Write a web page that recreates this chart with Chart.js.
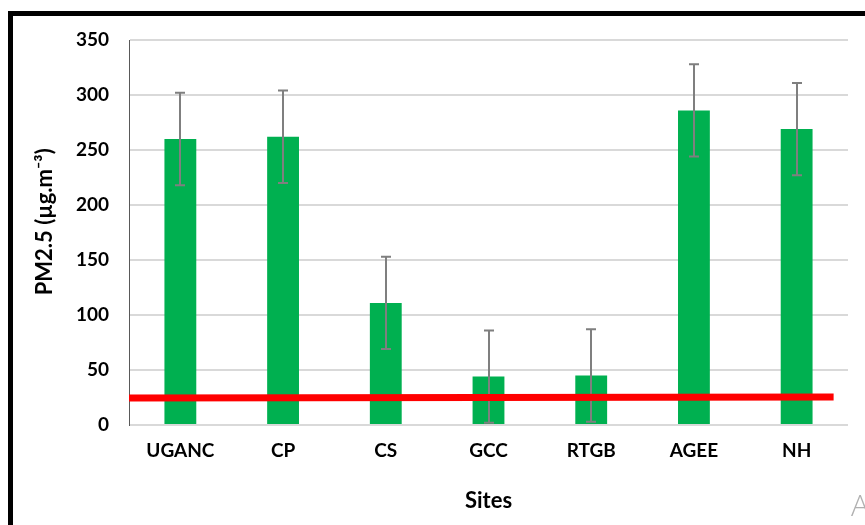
<!DOCTYPE html>
<html>
<head>
<meta charset="utf-8">
<script src="https://cdn.jsdelivr.net/npm/chart.js@4/dist/chart.umd.min.js"></script>
<style>
  html, body { margin: 0; padding: 0; background: #fff; overflow: hidden; }
  #wrap { position: relative; width: 865px; height: 525px; }
  #frame { position: absolute; left: 8px; top: 11px; width: 900px; height: 600px;
           border-left: 5px solid #000; border-top: 5px solid #000; pointer-events: none; }
  #tag { position: absolute; left: 851px; top: 484px; font: 300 30px "Open Sans", sans-serif;
         color: #b0b0b0; }
</style>
</head>
<body>
<div id="wrap">
  <canvas id="c" width="865" height="525"></canvas>
  <div id="frame"></div>
  <div id="tag">A</div>
</div>
<script>
// PM2.5 concentration by sampling site (mean ± error)
const sites = ['UGANC', 'CP', 'CS', 'GCC', 'RTGB', 'AGEE', 'NH'];
const pm25 = [260, 262, 111, 44, 45, 286, 269];
const pm25Err = [42, 42, 42, 42, 42, 42, 42];
// guideline reference line (start and end values)
const limitLine = [24.5, 25.5];
const yTicks = [0, 50, 100, 150, 200, 250, 300, 350];

const tickFont = { family: 'Lato', weight: 'bold', size: 19 };
const titleFont = { family: 'Lato', weight: 'bold', size: 22 };

// error bars drawn right after the bar dataset, before the reference line
const errorBars = {
  id: 'errorBars',
  afterDatasetDraw(chart, args) {
    if (args.index !== 0) return;
    const { ctx, scales: { x, y } } = chart;
    ctx.save();
    ctx.strokeStyle = '#7f7f7f';
    ctx.lineWidth = 2;
    pm25.forEach((v, i) => {
      const px = Math.round(x.getPixelForValue(i));
      const top = y.getPixelForValue(v + pm25Err[i]);
      const bot = y.getPixelForValue(v - pm25Err[i]);
      ctx.beginPath();
      ctx.moveTo(px, top); ctx.lineTo(px, bot);
      ctx.moveTo(px - 5, top); ctx.lineTo(px + 5, top);
      ctx.moveTo(px - 5, bot); ctx.lineTo(px + 5, bot);
      ctx.stroke();
    });
    ctx.restore();
  }
};

new Chart(document.getElementById('c'), {
  type: 'bar',
  data: {
    labels: sites,
    datasets: [
      {
        type: 'bar',
        data: pm25,
        backgroundColor: '#00b050',
        borderWidth: 0,
        grouped: false,
        barPercentage: 0.31,
        categoryPercentage: 1,
        order: 1
      },
      {
        type: 'line',
        xAxisID: 'x2',
        data: [{ x: -0.5, y: limitLine[0] }, { x: 6.36, y: limitLine[1] }],
        borderColor: '#ff0000',
        borderWidth: 7,
        borderCapStyle: 'butt',
        pointRadius: 0,
        order: 0
      }
    ]
  },
  options: {
    responsive: false,
    animation: false,
    events: [],
    layout: { padding: { left: 0, top: 40, right: 17, bottom: 0 } },
    plugins: { legend: { display: false }, tooltip: { enabled: false } },
    scales: {
      x: {
        type: 'category',
        grid: { display: false, drawTicks: false },
        border: { display: false },
        ticks: { color: '#000', font: tickFont, padding: 14, maxRotation: 0 },
        title: { display: true, text: 'Sites', color: '#000', font: titleFont, padding: { top: 0, bottom: 11 } },
        afterFit(s) { s.height = 100; }
      },
      x2: {
        type: 'linear',
        display: false,
        offset: false,
        min: -0.5,
        max: 6.5
      },
      y: {
        min: 0,
        max: 350,
        afterBuildTicks(s) { s.ticks = yTicks.map(v => ({ value: v })); },
        grid: { color: '#d9d9d9', lineWidth: 2, drawTicks: false },
        border: { display: true, color: '#595959', width: 1 },
        ticks: { color: '#000', font: tickFont, padding: 20 },
        title: { display: true, text: '    PM2.5 (µg.m⁻³)', color: '#000', font: titleFont, padding: { top: 32, bottom: 0 } },
        afterFit(s) { s.width = 129; }
      }
    }
  },
  plugins: [errorBars]
});
</script>
</body>
</html>
